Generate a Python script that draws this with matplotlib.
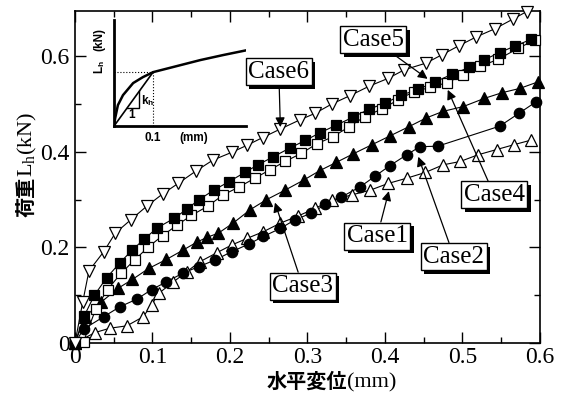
import numpy as np
import matplotlib
matplotlib.use("Agg")
import matplotlib.pyplot as plt
import matplotlib.patheffects as pe

plt.rcParams['font.family'] = ['Liberation Serif', 'Noto Sans CJK JP']
plt.rcParams['mathtext.fontset'] = 'custom'
plt.rcParams['mathtext.rm'] = 'Liberation Serif'
plt.rcParams['mathtext.it'] = 'Liberation Serif:italic'

# ---- data ----
x6 = [0, 0.01, 0.018, 0.037, 0.052, 0.072, 0.093, 0.113, 0.133, 0.156, 0.178, 0.202, 0.222,
      0.242, 0.265, 0.29, 0.31, 0.331, 0.355, 0.38, 0.404, 0.425, 0.453, 0.473, 0.495, 0.518,
      0.542, 0.565, 0.583, 0.6]
y6 = [0, 0.086, 0.151, 0.191, 0.23, 0.258, 0.287, 0.312, 0.334, 0.36, 0.383, 0.399, 0.414,
      0.43, 0.448, 0.467, 0.481, 0.5, 0.518, 0.538, 0.554, 0.572, 0.586, 0.603, 0.622, 0.641,
      0.658, 0.678, 0.694, 0.712]

x5 = [0, 0.012, 0.025, 0.041, 0.058, 0.074, 0.089, 0.106, 0.128, 0.144, 0.16, 0.179, 0.199,
      0.219, 0.236, 0.256, 0.277, 0.297, 0.316, 0.337, 0.359, 0.38, 0.4, 0.421, 0.443, 0.465,
      0.487, 0.509, 0.528, 0.548, 0.568, 0.589]
y5 = [0, 0.057, 0.1, 0.137, 0.168, 0.195, 0.217, 0.241, 0.261, 0.28, 0.3, 0.32, 0.338, 0.357,
      0.373, 0.39, 0.408, 0.424, 0.44, 0.456, 0.473, 0.49, 0.502, 0.519, 0.531, 0.547, 0.563,
      0.577, 0.593, 0.608, 0.622, 0.636]

x4 = [0.011, 0.027, 0.042, 0.06, 0.077, 0.094, 0.113, 0.132, 0.15, 0.172, 0.191, 0.211, 0.232,
      0.252, 0.271, 0.292, 0.312, 0.333, 0.353, 0.374, 0.396, 0.417, 0.437, 0.458, 0.48, 0.501,
      0.523, 0.546, 0.572, 0.594]
y4 = [0.003, 0.072, 0.112, 0.147, 0.174, 0.2, 0.225, 0.247, 0.267, 0.287, 0.31, 0.326, 0.345,
      0.363, 0.38, 0.397, 0.417, 0.432, 0.452, 0.474, 0.49, 0.509, 0.526, 0.535, 0.545, 0.561,
      0.579, 0.594, 0.617, 0.635]

x3 = [0, 0.013, 0.034, 0.056, 0.074, 0.095, 0.118, 0.14, 0.157, 0.17, 0.185, 0.204, 0.226,
      0.247, 0.271, 0.295, 0.316, 0.337, 0.359, 0.383, 0.407, 0.431, 0.453, 0.475, 0.501, 0.528,
      0.551, 0.574, 0.598]
y3 = [0, 0.055, 0.086, 0.115, 0.133, 0.156, 0.175, 0.195, 0.211, 0.221, 0.23, 0.251, 0.279,
      0.3, 0.32, 0.341, 0.361, 0.378, 0.396, 0.415, 0.434, 0.453, 0.471, 0.485, 0.495, 0.512,
      0.524, 0.533, 0.547]

x2 = [0, 0.011, 0.037, 0.058, 0.08, 0.099, 0.118, 0.14, 0.16, 0.181, 0.202, 0.224, 0.243,
      0.265, 0.284, 0.305, 0.323, 0.343, 0.368, 0.387, 0.406, 0.428, 0.445, 0.468, 0.548, 0.573,
      0.595]
y2 = [0, 0.029, 0.055, 0.076, 0.092, 0.112, 0.128, 0.147, 0.16, 0.174, 0.191, 0.207, 0.223,
      0.24, 0.258, 0.272, 0.29, 0.305, 0.327, 0.349, 0.371, 0.394, 0.411, 0.412, 0.454, 0.481,
      0.505]

x1 = [0, 0.026, 0.045, 0.067, 0.088, 0.099, 0.108, 0.127, 0.144, 0.161, 0.183, 0.202, 0.222,
      0.243, 0.265, 0.288, 0.31, 0.331, 0.357, 0.381, 0.404, 0.428, 0.452, 0.475, 0.497, 0.52,
      0.544, 0.566, 0.589]
y1 = [0, 0.022, 0.031, 0.036, 0.055, 0.08, 0.104, 0.128, 0.149, 0.17, 0.189, 0.205, 0.219,
      0.233, 0.251, 0.266, 0.282, 0.299, 0.31, 0.32, 0.334, 0.345, 0.357, 0.373, 0.38, 0.394,
      0.405, 0.415, 0.425]

labels = ['Case1', 'Case2', 'Case3', 'Case4', 'Case5', 'Case6']
label_box = [(0.39, 0.224), (0.489, 0.181), (0.294, 0.119), (0.541, 0.31), (0.385, 0.635), (0.263, 0.568)]
label_tip = [(0.405, 0.318), (0.443, 0.39), (0.258, 0.294), (0.481, 0.53), (0.455, 0.553), (0.265, 0.452)]

# inset (schematic) curve
ix = [0, 0.003, 0.010, 0.023, 0.049, 0.074, 0.1, 0.151, 0.221, 0.279, 0.341]
iy = [0, 0.075, 0.198, 0.292, 0.406, 0.462, 0.509, 0.557, 0.623, 0.670, 0.717]

fig = plt.figure(figsize=(5.72, 3.94), dpi=100)
ax = fig.add_axes([0.1311, 0.1294, 0.8129, 0.8426])

series = [(x1, y1, '^', 9, 'white'), (x2, y2, 'o', 7.5, 'k'), (x3, y3, '^', 9, 'k'),
          (x4, y4, 's', 7.5, 'white'), (x5, y5, 's', 7.5, 'k'), (x6, y6, 'v', 9, 'white')]
for xs, ys, m, ms, fc in series:
    ax.plot(xs, ys, color='k', lw=0.8)
    # markers may stick out of the frame at the origin, but not past the top
    keep = [i for i in range(len(xs)) if ys[i] <= 0.695]
    ax.plot([xs[i] for i in keep], [ys[i] for i in keep], ls='none', marker=m, ms=ms,
            mfc=fc, mec='k', mew=0.9, clip_on=False, zorder=3)

ax.set_xlim(0, 0.6)
ax.set_ylim(0, 0.695)
ax.set_xticks([0, 0.1, 0.2, 0.3, 0.4, 0.5, 0.6])
ax.set_xticklabels(['0', '0.1', '0.2', '0.3', '0.4', '0.5', '0.6'])
ax.set_yticks([0, 0.2, 0.4, 0.6])
ax.set_yticklabels(['0', '0.2', '0.4', '0.6'])
ax.set_xticks(np.arange(0, 0.61, 0.05), minor=True)
ax.set_yticks(np.arange(0, 0.7, 0.1), minor=True)
ax.tick_params(which='both', direction='in', top=True, right=True, width=1, labelsize=17)
ax.tick_params(which='major', length=8, pad=4)
ax.tick_params(axis='x', which='major', pad=3)
ax.tick_params(which='minor', length=4.5)
for s in ax.spines.values():
    s.set_linewidth(1.2)

# case labels with drop shadow
for lab, bxy, txy in zip(labels, label_box, label_tip):
    an = ax.annotate(lab, xy=txy, xytext=bxy, fontsize=18, ha='center', va='center',
                     bbox=dict(boxstyle='square,pad=0.1', fc='white', ec='k', lw=1),
                     arrowprops=dict(arrowstyle='-|>', color='k', lw=0.9, mutation_scale=14,
                                     shrinkA=0, shrinkB=0),
                     zorder=6)
    an.get_bbox_patch().set_path_effects([
        pe.SimplePatchShadow(offset=(2.5, -2.5), shadow_rgbFace='k', alpha=1), pe.Normal()])

# axis labels
fig.text(0.607, 0.017, '水平変位', fontsize=14.5, fontweight='bold', ha='right',
         va='baseline', family='Noto Sans CJK JP')
fig.text(0.607, 0.017, '(mm)', fontsize=16, ha='left', va='baseline')
fig.text(0.056, 0.551, '荷重', fontsize=14.5, fontweight='bold', rotation=90,
         rotation_mode='anchor', ha='right', va='baseline', family='Noto Sans CJK JP')
fig.text(0.056, 0.551, 'L$_\\mathrm{h}$(kN)', fontsize=16, rotation=90,
         rotation_mode='anchor', ha='left', va='baseline')

# inset schematic
ins = fig.add_axes([0.1993, 0.680, 0.231, 0.269])
ins.plot(ix, iy, color='k', lw=1.8)
ins.plot([0, 0.1], [0, 0.509], color='k', lw=1.2)
ins.plot([0, 0.1], [0.509, 0.509], color='k', lw=0.8, ls=':')
ins.plot([0.1, 0.1], [0, 0.509], color='k', lw=0.8, ls=':')
ins.plot([0.034, 0.065, 0.065], [0.173, 0.173, 0.331], color='k', lw=1.0)
ins.set_xlim(0, 0.338)
ins.set_ylim(0, 1)
ins.patch.set_alpha(0)
ins.spines['top'].set_visible(False)
ins.spines['right'].set_visible(False)
ins.spines['left'].set_linewidth(2)
ins.spines['bottom'].set_linewidth(2)
ins.set_xticks([])
ins.set_yticks([])
ifont = dict(family='Liberation Sans', fontweight='bold', fontsize=8.5)
ins.text(0.045, 0.104, '1', ha='center', va='center', **ifont)
ins.text(0.07, 0.245, 'k$_\\mathregular{h}$', ha='left', va='center', **ifont)
ins.text(0.1, -0.11, '0.1', ha='center', va='center', **ifont)
ins.text(0.203, -0.11, '(mm)', ha='center', va='center', **ifont)
ins.text(-0.038, 0.557, 'L$_\\mathregular{h}$', rotation=90, ha='center', va='center', **ifont)
ins.text(-0.038, 0.82, '(kN)', rotation=90, ha='center', va='center', **ifont)

fig.savefig('out.png', dpi=100)
